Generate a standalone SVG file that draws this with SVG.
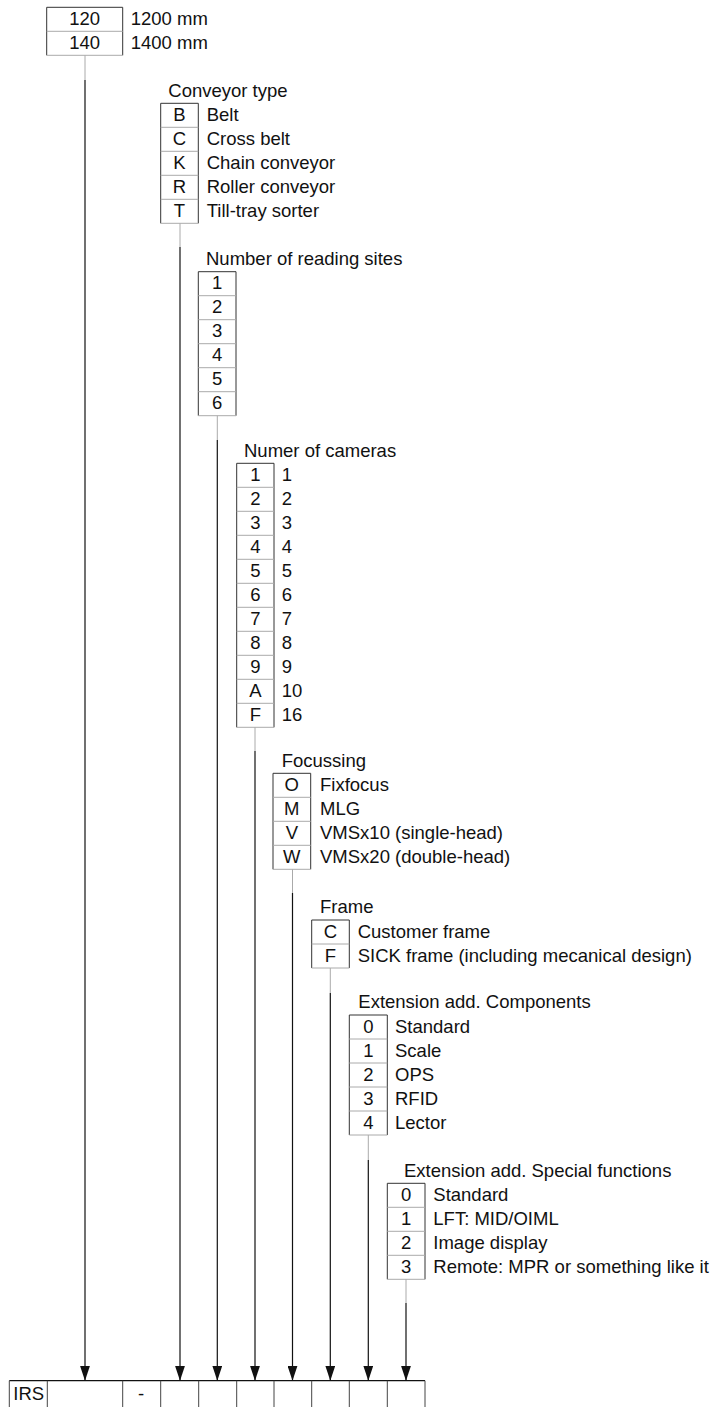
<svg xmlns="http://www.w3.org/2000/svg" width="715" height="1407" viewBox="0 0 715 1407">
<defs>
<style>
text{font-family:"Liberation Sans",Arial,sans-serif;font-size:18.5px;fill:#111}
.c{text-anchor:middle}
.ol{fill:none;stroke:#333;stroke-width:1}
.dv{stroke:#aaa;stroke-width:1;fill:none}
.g{stroke:#aaa;stroke-width:1;fill:none}
.k{stroke:#111;stroke-width:1.2;fill:none}
.cell{stroke:#444;stroke-width:1;fill:none}
</style>
<marker id="ah" viewBox="0 0 15 10" refX="15" refY="5" markerWidth="15" markerHeight="10" markerUnits="userSpaceOnUse" orient="auto">
<path d="M0,0 L15,5 L0,10 z" fill="#111"/>
</marker>
</defs>
<rect width="715" height="1407" fill="#fff"/>

<g id="node-length">
<path class="ol" d="M46.7,55.3 V7.3 H122.7 V55.3"/>
<path class="dv" d="M46.7,31.3 H122.7 M46.7,55.3 H122.7"/>
<text class="c" x="84.7" y="25">120</text>
<text class="c" x="84.7" y="49">140</text>
<text x="130.7" y="25">1200 mm</text>
<text x="130.7" y="49">1400 mm</text>
</g>

<g id="node-conveyor">
<text x="168.3" y="96.7">Conveyor type</text>
<path class="ol" d="M160.7,223.3 V103.3 H198.3 V223.3"/>
<path class="dv" d="M160.7,127.3 H198.3 M160.7,151.3 H198.3 M160.7,175.3 H198.3 M160.7,199.3 H198.3 M160.7,223.3 H198.3"/>
<text class="c" x="179.5" y="121">B</text>
<text class="c" x="179.5" y="145">C</text>
<text class="c" x="179.5" y="169">K</text>
<text class="c" x="179.5" y="193">R</text>
<text class="c" x="179.5" y="217">T</text>
<text x="206.7" y="121">Belt</text>
<text x="206.7" y="145">Cross belt</text>
<text x="206.7" y="169">Chain conveyor</text>
<text x="206.7" y="193">Roller conveyor</text>
<text x="206.7" y="217">Till-tray sorter</text>
</g>

<g id="node-reading">
<text x="206" y="265">Number of reading sites</text>
<path class="ol" d="M198.3,415.7 V271.7 H236 V415.7"/>
<path class="dv" d="M198.3,295.7 H236 M198.3,319.7 H236 M198.3,343.7 H236 M198.3,367.7 H236 M198.3,391.7 H236 M198.3,415.7 H236"/>
<text class="c" x="217.2" y="289.4">1</text>
<text class="c" x="217.2" y="313.4">2</text>
<text class="c" x="217.2" y="337.4">3</text>
<text class="c" x="217.2" y="361.4">4</text>
<text class="c" x="217.2" y="385.4">5</text>
<text class="c" x="217.2" y="409.4">6</text>
</g>

<g id="node-cameras">
<text x="244" y="456.7">Numer of cameras</text>
<path class="ol" d="M236.7,727.3 V463.3 H274 V727.3"/>
<path class="dv" d="M236.7,487.3 H274 M236.7,511.3 H274 M236.7,535.3 H274 M236.7,559.3 H274 M236.7,583.3 H274 M236.7,607.3 H274 M236.7,631.3 H274 M236.7,655.3 H274 M236.7,679.3 H274 M236.7,703.3 H274 M236.7,727.3 H274"/>
<text class="c" x="255.3" y="481">1</text>
<text class="c" x="255.3" y="505">2</text>
<text class="c" x="255.3" y="529">3</text>
<text class="c" x="255.3" y="553">4</text>
<text class="c" x="255.3" y="577">5</text>
<text class="c" x="255.3" y="601">6</text>
<text class="c" x="255.3" y="625">7</text>
<text class="c" x="255.3" y="649">8</text>
<text class="c" x="255.3" y="673">9</text>
<text class="c" x="255.3" y="697">A</text>
<text class="c" x="255.3" y="721">F</text>
<text x="281.7" y="481">1</text>
<text x="281.7" y="505">2</text>
<text x="281.7" y="529">3</text>
<text x="281.7" y="553">4</text>
<text x="281.7" y="577">5</text>
<text x="281.7" y="601">6</text>
<text x="281.7" y="625">7</text>
<text x="281.7" y="649">8</text>
<text x="281.7" y="673">9</text>
<text x="281.7" y="697">10</text>
<text x="281.7" y="721">16</text>
</g>

<g id="node-focussing">
<text x="281.7" y="766.7">Focussing</text>
<path class="ol" d="M273,869.3 V773.3 H310.7 V869.3"/>
<path class="dv" d="M273,797.3 H310.7 M273,821.3 H310.7 M273,845.3 H310.7 M273,869.3 H310.7"/>
<text class="c" x="291.8" y="791">O</text>
<text class="c" x="291.8" y="815">M</text>
<text class="c" x="291.8" y="839">V</text>
<text class="c" x="291.8" y="863">W</text>
<text x="320" y="791">Fixfocus</text>
<text x="320" y="815">MLG</text>
<text x="320" y="839">VMSx10 (single-head)</text>
<text x="320" y="863">VMSx20 (double-head)</text>
</g>

<g id="node-frame">
<text x="320" y="913.4">Frame</text>
<path class="ol" d="M311.7,968 V920 H349.3 V968"/>
<path class="dv" d="M311.7,944 H349.3 M311.7,968 H349.3"/>
<text class="c" x="330.5" y="937.7">C</text>
<text class="c" x="330.5" y="961.7">F</text>
<text x="357.7" y="937.7">Customer frame</text>
<text x="357.7" y="961.7">SICK frame (including mecanical design)</text>
</g>

<g id="node-components">
<text x="358.3" y="1008.4">Extension add. Components</text>
<path class="ol" d="M349.3,1135 V1015 H387.3 V1135"/>
<path class="dv" d="M349.3,1039 H387.3 M349.3,1063 H387.3 M349.3,1087 H387.3 M349.3,1111 H387.3 M349.3,1135 H387.3"/>
<text class="c" x="368.3" y="1032.7">0</text>
<text class="c" x="368.3" y="1056.7">1</text>
<text class="c" x="368.3" y="1080.7">2</text>
<text class="c" x="368.3" y="1104.7">3</text>
<text class="c" x="368.3" y="1128.7">4</text>
<text x="395" y="1032.7">Standard</text>
<text x="395" y="1056.7">Scale</text>
<text x="395" y="1080.7">OPS</text>
<text x="395" y="1104.7">RFID</text>
<text x="395" y="1128.7">Lector</text>
</g>

<g id="node-special">
<text x="404" y="1176.7">Extension add. Special functions</text>
<path class="ol" d="M387.3,1279.3 V1183.3 H425 V1279.3"/>
<path class="dv" d="M387.3,1207.3 H425 M387.3,1231.3 H425 M387.3,1255.3 H425 M387.3,1279.3 H425"/>
<text class="c" x="406.2" y="1201">0</text>
<text class="c" x="406.2" y="1225">1</text>
<text class="c" x="406.2" y="1249">2</text>
<text class="c" x="406.2" y="1273">3</text>
<text x="433.3" y="1201">Standard</text>
<text x="433.3" y="1225">LFT: MID/OIML</text>
<text x="433.3" y="1249">Image display</text>
<text x="433.3" y="1273">Remote: MPR or something like it</text>
</g>

<g id="node-code">
<path class="k" d="M9.3,1380.7 H425"/>
<path class="cell" d="M9.3,1380.7 V1407 M47.3,1380.7 V1407 M122.7,1380.7 V1407 M160.7,1380.7 V1407 M198.7,1380.7 V1407 M236.7,1380.7 V1407 M274,1380.7 V1407 M311.7,1380.7 V1407 M349.3,1380.7 V1407 M387.3,1380.7 V1407 M425,1380.7 V1407"/>
<text x="13.3" y="1400">IRS</text>
<text class="c" x="141" y="1400">-</text>
</g>

<g id="connectors">
<path class="g" d="M85,55.3 V80"/>
<path class="k" d="M85,80 V1380.7" marker-end="url(#ah)"/>
<path class="g" d="M180,223.3 V247"/>
<path class="k" d="M180,247 V1380.7" marker-end="url(#ah)"/>
<path class="g" d="M217.3,415.7 V440"/>
<path class="k" d="M217.3,440 V1380.7" marker-end="url(#ah)"/>
<path class="g" d="M255,727.3 V751"/>
<path class="k" d="M255,751 V1380.7" marker-end="url(#ah)"/>
<path class="g" d="M292.5,869.3 V893"/>
<path class="k" d="M292.5,893 V1380.7" marker-end="url(#ah)"/>
<path class="g" d="M330.3,968 V993"/>
<path class="k" d="M330.3,993 V1380.7" marker-end="url(#ah)"/>
<path class="g" d="M368.3,1135 V1160"/>
<path class="k" d="M368.3,1160 V1380.7" marker-end="url(#ah)"/>
<path class="g" d="M406,1279.3 V1303"/>
<path class="k" d="M406,1303 V1380.7" marker-end="url(#ah)"/>
</g>
</svg>
